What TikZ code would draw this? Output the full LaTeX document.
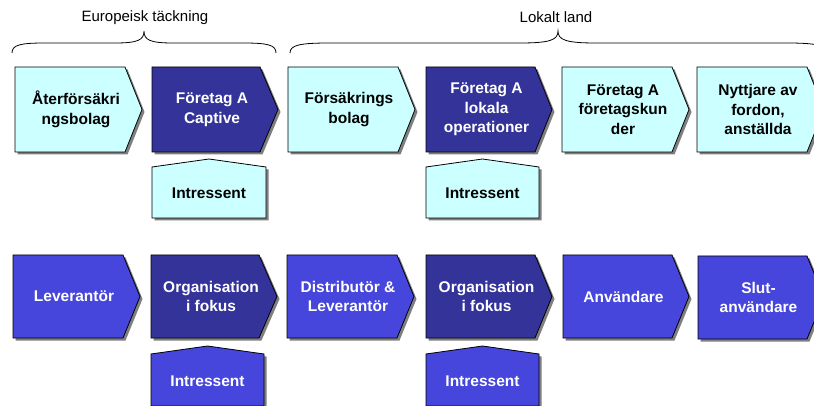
\documentclass[tikz,border=0pt]{standalone}
\usepackage{fontspec}
\setmainfont{Liberation Sans}
\definecolor{lcyan}{HTML}{CCFFFF}
\definecolor{dnavy}{HTML}{333399}
\definecolor{mblue}{HTML}{4646DC}
\definecolor{shad}{HTML}{7F7F7F}
\tikzset{
  boxshape/.style={draw=black, line width=0.8pt, line join=miter},
  shadowfill/.style={fill=shad, draw=none},
  lbl/.style={font=\fontsize{15.5}{19.5}\selectfont\bfseries, align=center, inner sep=0pt},
  toplbl/.style={font=\fontsize{15}{18}\selectfont, inner sep=0pt},
  brace/.style={draw=black, line width=0.8pt}
}
% chevron: name, x1, y1, xr, xt, y2, fill, textcolor, text
\newcommand\chevbox[9]{%
  \pgfmathsetmacro\ym{(#3+#6)/2}%
  \pgfmathsetmacro\xc{(#2+#4)/2+6}%
  \fill[shadowfill] (#2+2.5,#3+2.5) -- (#4+2.5,#3+2.5) -- (#5+2.5,\ym+2.5) -- (#4+2.5,#6+2.5) -- (#2+2.5,#6+2.5) -- cycle;
  \path[boxshape, fill=#7] (#2,#3) -- (#4,#3) -- (#5,\ym) -- (#4,#6) -- (#2,#6) -- cycle;
  \node[lbl, text=#8] (#1) at (\xc,\ym) {#9};
}
% house: name, x1, x2, ypeak, yshoulder, ybottom, fill, textcolor, text
\newcommand\housebox[9]{%
  \pgfmathsetmacro\xp{(#2+#3)/2}%
  \pgfmathsetmacro\yc{(#5+#6)/2+1}%
  \fill[shadowfill] (#2+2.5,#5+2.5) -- (\xp+2.5,#4+2.5) -- (#3+2.5,#5+2.5) -- (#3+2.5,#6+2.5) -- (#2+2.5,#6+2.5) -- cycle;
  \path[boxshape, fill=#7] (#2,#5) -- (\xp,#4) -- (#3,#5) -- (#3,#6) -- (#2,#6) -- cycle;
  \node[lbl, text=#8] (#1) at (\xp,\yc) {#9};
}
\begin{document}
\begin{tikzpicture}[x=1pt,y=-1pt]
\useasboundingbox[fill=white] (0,0) rectangle (814,406);
% braces
\draw[brace] (12,53) .. controls (12,45) and (20,43) .. (45,43) -- (115,43) .. controls (138,43) and (144,40) .. (144,31)
  .. controls (144,40) and (150,43) .. (173,43) -- (243,43) .. controls (268,43) and (276,45) .. (276,53);
\node[toplbl] (eur) at (145,18) {Europeisk täckning};
\draw[brace] (290,53) .. controls (290,45) and (300,43) .. (330,43) -- (520,43) .. controls (550,43) and (558,40) .. (558,31)
  .. controls (558,40) and (566,43) .. (596,43) -- (786,43) .. controls (816,43) and (826,45) .. (826,53);
\node[toplbl] (lok) at (556,17) {Lokalt land};
% top row
\chevbox{t1}{15}{67}{125}{142}{152}{lcyan}{black}{Återförsäkri\\ngsbolag}
\chevbox{t2}{152}{67}{260}{278}{152}{dnavy}{white}{Företag A\\Captive}
\chevbox{t3}{288}{67}{398}{415}{152}{lcyan}{black}{Försäkrings\\bolag}
\chevbox{t4}{426}{67}{535}{552}{152}{dnavy}{white}{Företag A\\lokala\\operationer}
\chevbox{t5}{562}{67}{672}{689}{152}{lcyan}{black}{Företag A\\företagskun\\der}
\chevbox{t6}{697}{67}{807}{824}{152}{lcyan}{black}{Nyttjare av\\fordon,\\anställda}
\housebox{ti1}{152}{266}{159}{167}{218}{lcyan}{black}{Intressent}
\housebox{ti2}{426}{539}{159}{167}{218}{lcyan}{black}{Intressent}
% bottom row
\chevbox{b1}{13}{255}{123}{140}{338}{mblue}{white}{Leverantör}
\chevbox{b2}{151}{255}{259}{277}{338}{dnavy}{white}{Organisation\\i fokus}
\chevbox{b3}{287}{255}{397}{414}{338}{mblue}{white}{Distributör \&\\Leverantör}
\chevbox{b4}{426}{255}{535}{552}{338}{dnavy}{white}{Organisation\\i fokus}
\chevbox{b5}{563}{255}{672}{689}{338}{mblue}{white}{Användare}
\chevbox{b6}{698}{256}{807}{824}{339}{mblue}{white}{Slut-\\användare}
\housebox{bi1}{151}{264}{346}{354}{406}{mblue}{white}{Intressent}
\housebox{bi2}{426}{539}{346}{354}{406}{mblue}{white}{Intressent}
\end{tikzpicture}
\end{document}
